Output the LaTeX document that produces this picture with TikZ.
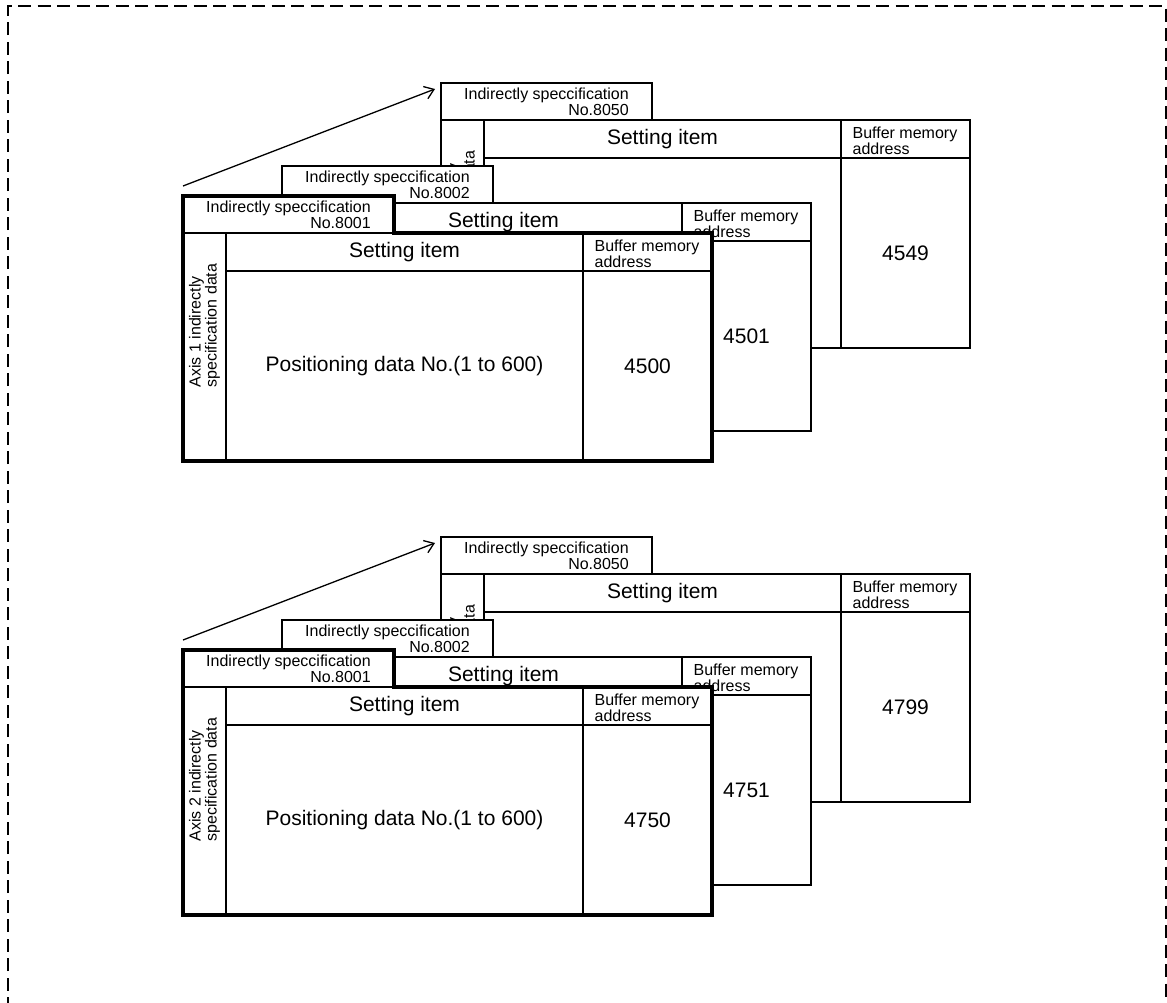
\documentclass[tikz,border=0pt]{standalone}
\usepackage{fontspec}
\setmainfont{Liberation Sans}
\usetikzlibrary{arrows.meta}

\begin{document}
\begin{tikzpicture}[x=1pt, y=-1pt, line width=1.3pt,
  smalltxt/.style={font=\fontsize{16}{16}\selectfont, inner sep=2pt},
  bigtxt/.style={font=\fontsize{21}{24}\selectfont},
  sheet/.style={draw=black, fill=white}]
  \useasboundingbox (0,0) rectangle (1167,1002);
  \draw[line width=1.8pt, dash pattern=on 13pt off 6.5pt] (8,1010) -- (8,6) -- (1166,6) -- (1166,1010);
  \foreach \g/\dy/\ad/\bd/\cd in {1/0/4500/4501/4549, 2/454/4750/4751/4799}{
  \begin{scope}[shift={(0,\dy)}]
    \coordinate (arr\g s) at (183,186); \coordinate (arr\g e) at (435,89);
    \draw[-{Straight Barb[length=9pt,width=13pt]}] (arr\g s) -- (arr\g e);
    % back to front: No.8050, No.8002, No.8001
    \foreach \px/\py/\pn/\no/\adr in {441/120/c/8050/\cd, 282/203/b/8002/\bd, 183/233/a/8001/\ad}{
    \begin{scope}[shift={(\px,\py)}]
      \draw[sheet] (0,-37) rectangle (211,0);
      \draw[sheet] (0,0) rectangle (529,228);
      \draw (43,0) -- (43,228) (43,38) -- (529,38) (400,0) -- (400,228);
      \node[smalltxt, align=right] (tab\g\pn) at (105.5,-18.5) {Indirectly speccification\\No.\no};
      \node[bigtxt] (set\g\pn) at (221.5,19) {Setting item};
      \node[smalltxt, align=left, anchor=west] (buf\g\pn) at (409,21) {Buffer memory\\address};
      \node[bigtxt] (pos\g\pn) at (221.5,133) {Positioning data No.(1 to 600)};
      \node[bigtxt] (adr\g\pn) at (464.5,133) {\adr};
      \node[smalltxt, align=left, rotate=90, anchor=west] (axis\g\pn) at (21.5,157) {Axis \g\ indirectly\\specification data};
    \end{scope}
    }
    \draw[line width=4pt] (183,461) -- (183,196) -- (394,196) -- (394,233) -- (712,233) -- (712,461) -- cycle;
  \end{scope}
  }
\end{tikzpicture}
\end{document}
